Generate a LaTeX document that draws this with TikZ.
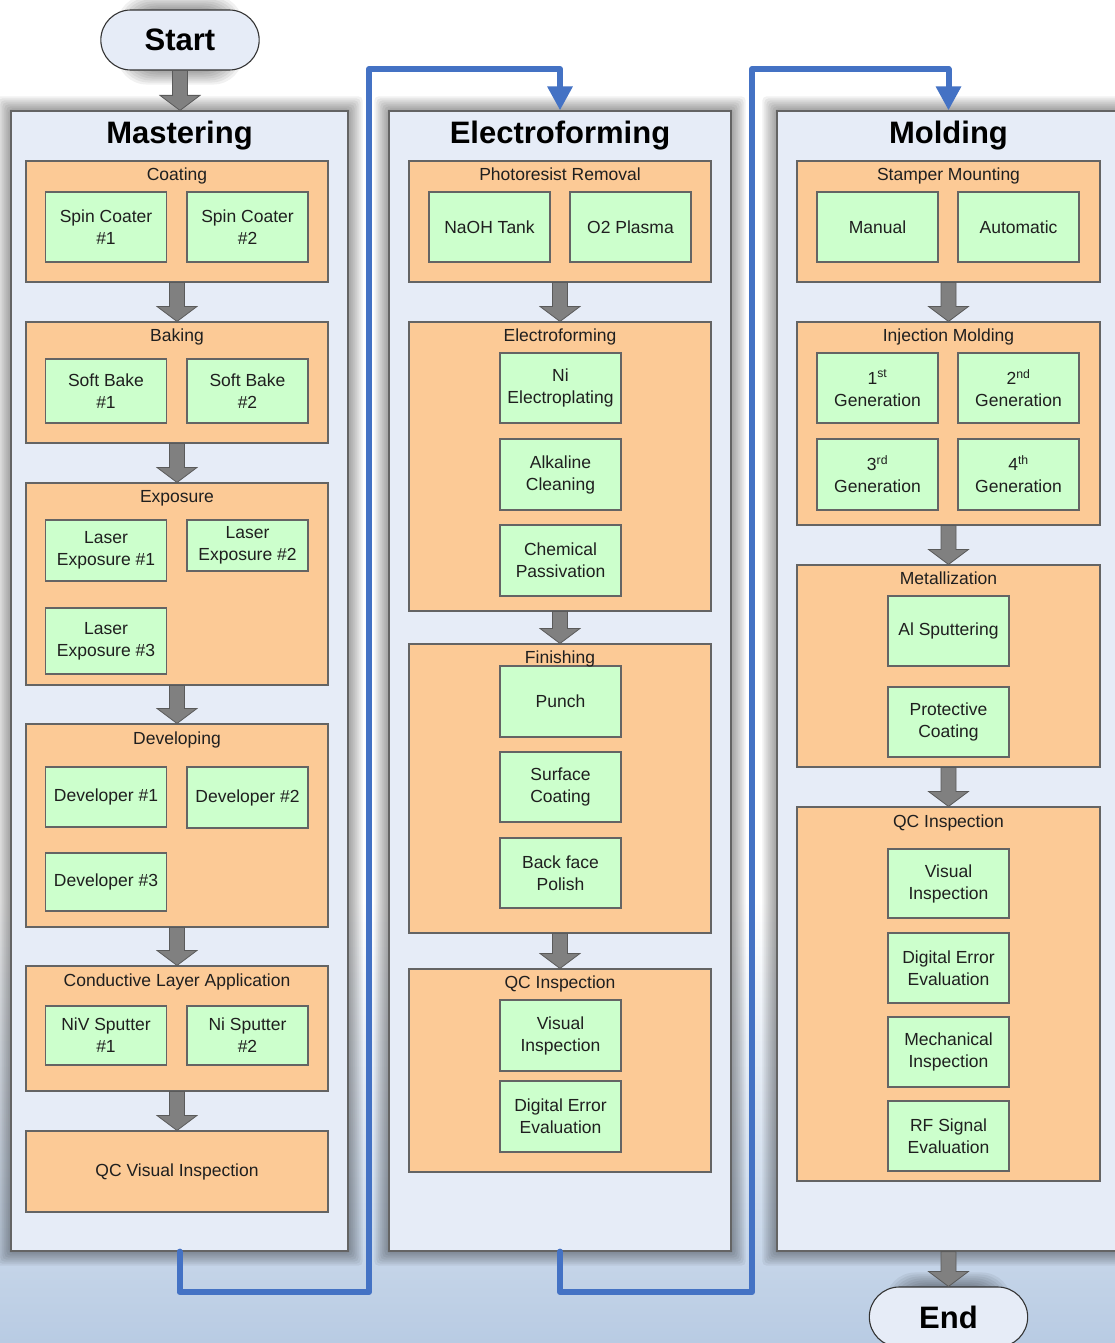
\documentclass[tikz,border=0pt]{standalone}
\usepackage{fontspec}
\setmainfont{Liberation Sans}
\usetikzlibrary{positioning,arrows.meta,calc,shapes.misc}
\definecolor{panelfill}{RGB}{230,236,247}
\definecolor{stagefill}{RGB}{252,202,150}
\definecolor{unitfill}{RGB}{204,255,204}
\definecolor{edgegray}{RGB}{100,100,100}
\definecolor{arrowgray}{RGB}{128,128,128}
\definecolor{arrowdark}{RGB}{90,90,90}
\definecolor{flowblue}{RGB}{68,114,196}
\definecolor{bgblue}{RGB}{184,203,227}
\pgfdeclarelayer{back}
\pgfdeclarelayer{glow}
\pgfsetlayers{back,glow,main}
% gray block arrow between two stages
\newcommand{\stepdown}[2]{%
  \draw[blockarr] let \p1=(#1), \p2=(#2) in
    (\x1-7.5pt,\y1) -- (\x1+7.5pt,\y1) -- (\x1+7.5pt,\y2+15pt) -- (\x1+20pt,\y2+15pt)
    -- (\x1,\y2) -- (\x1-20pt,\y2+15pt) -- (\x1-7.5pt,\y2+15pt) -- cycle;}
% soft shadow round a node
\newcommand{\glowbox}[2]{%
  \foreach \g in {1,...,7}
    \fill[black, opacity=0.055, rounded corners=#2]
      ($(#1.south west)+(-2*\g pt,-2*\g pt)$) rectangle ($(#1.north east)+(2*\g pt,2*\g pt)$);}

\begin{document}
\begin{tikzpicture}[x=1pt, y=-1pt,
  every node/.style={font=\fontsize{17.5}{22}\selectfont, text=black!88},
  panel/.style={draw=edgegray, line width=1.2pt, fill=panelfill, minimum height=1140pt, minimum width=#1},
  stage/.style={draw=edgegray, line width=1.1pt, fill=stagefill, minimum width=302pt, minimum height=#1},
  unit/.style={draw=edgegray, line width=1.1pt, fill=unitfill, minimum width=121pt, minimum height=#1,
               align=center, inner sep=2pt},
  unit/.default=70pt,
  lab/.style={inner sep=0pt, anchor=base},
  title/.style={font=\fontsize{31}{36}\selectfont\bfseries, text=black, inner sep=0pt, anchor=base},
  terminal/.style={rounded rectangle, draw=black!80, line width=1.1pt, fill=panelfill,
                   minimum width=165pt, minimum height=60pt, font=\fontsize{31}{36}\selectfont\bfseries, text=black},
  blockarr/.style={fill=arrowgray, draw=arrowdark, line width=0.8pt},
  flow/.style={draw=flowblue, line width=6pt, line join=round, line cap=round,
               -{Triangle[width=24pt,length=24pt]}}]
\useasboundingbox (0,0) rectangle (1115,1343);
\begin{pgfonlayer}{back}
  \fill[white] (0,0) rectangle (1115,1343);
  \shade[top color=white, bottom color=bgblue] (0,900) rectangle (1115,1343);
\end{pgfonlayer}

% panels
\node[terminal] (start) at (180,40) {Start};
\node[panel=337pt] (mast) at (179.5,681) {};
\node[panel=342pt] (elec) at (560,681) {};
\node[panel=343pt] (mold) at (948.5,681) {};
\node[terminal] (end) at (948.5,1317) {End};
\node[title] at ($(mast.north)+(0,33)$) {Mastering};
\node[title] at ($(elec.north)+(0,33)$) {Electroforming};
\node[title] at ($(mold.north)+(0,33)$) {Molding};
\begin{pgfonlayer}{glow}
  \glowbox{start}{30pt}
  \glowbox{end}{30pt}
  \glowbox{mast}{4pt}
  \glowbox{elec}{4pt}
  \glowbox{mold}{4pt}
\end{pgfonlayer}

% Mastering
\node[stage=121pt] (coat) at (177,221.5) {};
\node[unit] (spin1) at (106,227) {Spin Coater\\\#1};
\node[unit] (spin2) at (247.5,227) {Spin Coater\\\#2};
\node[stage=121pt] (bake) at (177,382.5) {};
\node[unit=64pt] (soft1) at (106,391) {Soft Bake\\\#1};
\node[unit=64pt] (soft2) at (247.5,391) {Soft Bake\\\#2};
\node[stage=202pt] (expo) at (177,584) {};
\node[unit=61pt] (laser1) at (106,550.5) {Laser\\Exposure \#1};
\node[unit=51pt] (laser2) at (247.5,545.5) {Laser\\Exposure \#2};
\node[unit=66pt] (laser3) at (106,641) {Laser\\Exposure \#3};
\node[stage=203pt] (devel) at (177,825.5) {};
\node[unit=60pt] (dev1) at (106,797) {Developer \#1};
\node[unit=61pt] (dev2) at (247.5,797.5) {Developer \#2};
\node[unit=58pt] (dev3) at (106,882) {Developer \#3};
\node[stage=125pt] (cond) at (177,1028.5) {};
\node[unit=59pt] (niv1) at (106,1035.5) {NiV Sputter\\\#1};
\node[unit=59pt] (ni2) at (247.5,1035.5) {Ni Sputter\\\#2};
\node[stage=81pt] (qcvis) at (177,1171.5) {QC Visual Inspection};
\node[lab] at ($(coat.north)+(0,20)$) {Coating};
\node[lab] at ($(bake.north)+(0,20)$) {Baking};
\node[lab] at ($(expo.north)+(0,20)$) {Exposure};
\node[lab] at ($(devel.north)+(0,21)$) {Developing};
\node[lab] at ($(cond.north)+(0,21)$) {Conductive Layer Application};

% Electroforming
\node[stage=121pt] (resist) at (560,221.5) {};
\node[unit] (naoh) at (489.5,227) {NaOH Tank};
\node[unit] (plasma) at (630.5,227) {O2 Plasma};
\node[stage=289pt] (eform) at (560,466.5) {};
\node[unit] (nielec) at (560.5,388) {Ni\\Electroplating};
\node[unit=71pt] (alkal) at (560.5,474.5) {Alkaline\\Cleaning};
\node[unit=71pt] (passiv) at (560.5,560.5) {Chemical\\Passivation};
\node[stage=289pt] (finish) at (560,788.5) {};
\node[unit=71pt] (punch) at (560.5,701.5) {Punch};
\node[unit] (surf) at (560.5,787) {Surface\\Coating};
\node[unit] (polish) at (560.5,873) {Back face\\Polish};
\node[stage=203pt] (eqc) at (560,1070.5) {};
\node[unit=71pt] (evis) at (560.5,1035.5) {Visual\\Inspection};
\node[unit=71pt] (edig) at (560.5,1116.5) {Digital Error\\Evaluation};
\node[lab] at ($(resist.north)+(0,20)$) {Photoresist Removal};
\node[lab] at ($(eform.north)+(0,20)$) {Electroforming};
\node[lab] at ($(finish.north)+(0,20)$) {Finishing};
\node[lab] at ($(eqc.north)+(0,20)$) {QC Inspection};

% Molding
\node[stage=121pt, minimum width=303pt] (mount) at (948.5,221.5) {};
\node[unit] (manual) at (877.5,227) {Manual};
\node[unit] (auto) at (1018.5,227) {Automatic};
\node[stage=203pt, minimum width=303pt] (inject) at (948.5,423.5) {};
\node[unit] (gen1) at (877.5,388) {1\textsuperscript{st}\\Generation};
\node[unit] (gen2) at (1018.5,388) {2\textsuperscript{nd}\\Generation};
\node[unit=71pt] (gen3) at (877.5,474.5) {3\textsuperscript{rd}\\Generation};
\node[unit=71pt] (gen4) at (1018.5,474.5) {4\textsuperscript{th}\\Generation};
\node[stage=202pt, minimum width=303pt] (metal) at (948.5,666) {};
\node[unit] (alsput) at (948.5,631) {Al Sputtering};
\node[unit] (protect) at (948.5,722) {Protective\\Coating};
\node[stage=374pt, minimum width=303pt] (mqc) at (948.5,994) {};
\node[unit=69pt] (mvis) at (948.5,883.5) {Visual\\Inspection};
\node[unit] (mdig) at (948.5,968) {Digital Error\\Evaluation};
\node[unit] (mech) at (948.5,1052) {Mechanical\\Inspection};
\node[unit] (rf) at (948.5,1136) {RF Signal\\Evaluation};
\node[lab] at ($(mount.north)+(0,20)$) {Stamper Mounting};
\node[lab] at ($(inject.north)+(0,20)$) {Injection Molding};
\node[lab] at ($(metal.north)+(0,20)$) {Metallization};
\node[lab] at ($(mqc.north)+(0,21)$) {QC Inspection};

% gray arrows
\stepdown{start.south}{mast.north}
\stepdown{coat.south}{bake.north}
\stepdown{bake.south}{expo.north}
\stepdown{expo.south}{devel.north}
\stepdown{devel.south}{cond.north}
\stepdown{cond.south}{qcvis.north}
\stepdown{resist.south}{eform.north}
\stepdown{eform.south}{finish.north}
\stepdown{finish.south}{eqc.north}
\stepdown{mount.south}{inject.north}
\stepdown{inject.south}{metal.north}
\stepdown{metal.south}{mqc.north}
\stepdown{mold.south}{end.north}

% blue connectors between panels
\coordinate (lane1) at (369,1292);
\coordinate (lane1top) at (369,69);
\coordinate (lane2) at (752,1292);
\coordinate (lane2top) at (752,69);
\draw[flow] (mast.south) |- (lane1) -- (lane1top) -| (elec.north);
\draw[flow] (elec.south) |- (lane2) -- (lane2top) -| (mold.north);
\end{tikzpicture}
\end{document}
